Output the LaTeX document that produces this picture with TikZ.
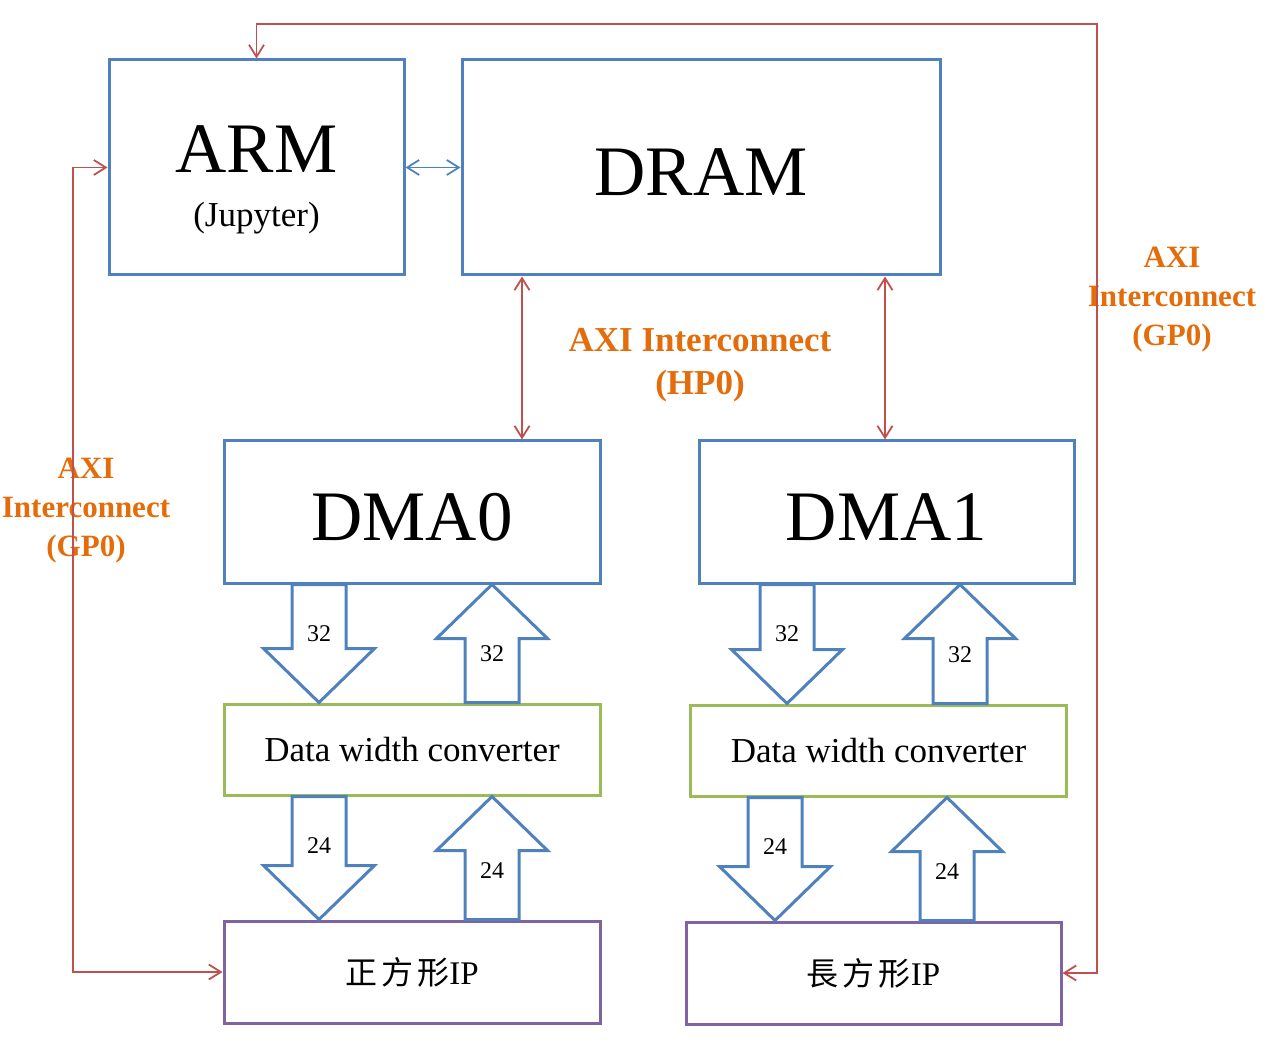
\documentclass[tikz,border=0pt]{standalone}
\usepackage{fontspec}
\setmainfont{Liberation Serif}
\newfontfamily\cjk{Noto Sans CJK TC}
\usetikzlibrary{arrows.meta,calc}

\definecolor{boxblue}{HTML}{4F81BD}
\definecolor{boxgreen}{HTML}{9BBB59}
\definecolor{boxpurple}{HTML}{8064A2}
\definecolor{axired}{HTML}{C0504D}
\definecolor{axiorange}{HTML}{E46C0A}

% hollow block arrow: x, tail, tip, label, name
\newcommand\blockarrow[5]{%
  \coordinate (tl) at (#2 -| #1,0);
  \coordinate (tp) at (#3 -| #1,0);
  \coordinate (hb) at ($(tp)!54pt!(tl)$);
  \draw[fat] ($(tl)!27pt!90:(tp)$) -- ($(hb)!27pt!90:(tp)$) -- ($(hb)!55.5pt!90:(tp)$) -- (tp)
    -- ($(hb)!55.5pt!-90:(tp)$) -- ($(hb)!27pt!-90:(tp)$) -- ($(tl)!27pt!-90:(tp)$) -- cycle;
  \node[num] (#5) at ($(tl)!49pt!(tp)$) {#4};
}

\begin{document}
\begin{tikzpicture}[x=1pt,y=-1pt,
  box/.style={draw=boxblue,line width=3pt,inner sep=0pt},
  big/.style={box,font=\fontsize{71}{71}\selectfont,text height=56pt,text depth=0pt},
  conv/.style={draw=boxgreen,line width=3pt,inner sep=0pt,minimum width=376,minimum height=91,font=\fontsize{35}{35}\selectfont},
  ip/.style={draw=boxpurple,line width=3pt,inner sep=0pt,minimum width=376,minimum height=102,font=\fontsize{33}{33}\selectfont},
  fat/.style={draw=boxblue,line width=3pt},
  num/.style={inner sep=0pt,font=\fontsize{24}{24}\selectfont},
  lbl/.style={text=axiorange,align=center,inner sep=0pt,font=\bfseries\fontsize{31}{39}\selectfont},
  axi/.style={draw=axired,line width=1.8pt,{Straight Barb[length=12pt,width=15pt]}-{Straight Barb[length=12pt,width=15pt]}},
  bus/.style={draw=boxblue,line width=1.8pt,{Straight Barb[length=12pt,width=15pt]}-{Straight Barb[length=12pt,width=15pt]}}]
  \useasboundingbox (0,0) rectangle (1270,1040);

  \node[box,minimum width=295,minimum height=215,align=center,font=\fontsize{71}{54}\selectfont] (arm) at (256.5,167.5)
    {\rule{0pt}{72pt}ARM\\\fontsize{35}{42}\selectfont(Jupyter)};
  \node[big,minimum width=478,minimum height=215] (dram) at (701,167.5) {DRAM};
  \node[big,minimum width=376,minimum height=142] (dma0) at (412,512) {DMA0};
  \node[big,minimum width=375,minimum height=142] (dma1) at (886.5,512) {DMA1};
  \node[conv] (dwc0) at (412,749.5) {Data width converter};
  \node[conv] (dwc1) at (878.5,750.5) {Data width converter};
  \node[ip] (ip0) at (412,972) {{\cjk\fontsize{32}{32}\selectfont 正\hspace{4pt}方\hspace{4pt}形}IP};
  \node[ip,minimum width=375] (ip1) at (873.5,973) {{\cjk\fontsize{32}{32}\selectfont 長\hspace{4pt}方\hspace{4pt}形}IP};

  \blockarrow{319}{dma0.south}{dwc0.north}{32}{w0a}
  \blockarrow{492}{dwc0.north}{dma0.south}{32}{r0a}
  \blockarrow{319}{dwc0.south}{ip0.north}{24}{w0b}
  \blockarrow{492}{ip0.north}{dwc0.south}{24}{r0b}
  \blockarrow{787}{dma1.south}{dwc1.north}{32}{w1a}
  \blockarrow{960}{dwc1.north}{dma1.south}{32}{r1a}
  \blockarrow{775}{dwc1.south}{ip1.north}{24}{w1b}
  \blockarrow{947}{ip1.north}{dwc1.south}{24}{r1b}

  \node[lbl,font=\bfseries\fontsize{35}{43}\selectfont] (hp0) at (700,365) {AXI Interconnect\\(HP0)};
  \node[lbl] (gp0l) at (86,511) {AXI\\Interconnect\\(GP0)};
  \node[lbl] (gp0r) at (1172,300) {AXI\\Interconnect\\(GP0)};

  \draw[bus] (arm.east) -- (dram.west);
  \draw[axi] (dram.south -| 522,0) -- (dma0.north -| 522,0);
  \draw[axi] (dram.south -| 885,0) -- (dma1.north -| 885,0);
  \draw[axi] (arm.west) -| (ip0.west -| 73,0) -- (ip0.west);
  \draw[axi] (arm.north) |- (1097,24) |- (ip1.east);
\end{tikzpicture}
\end{document}
